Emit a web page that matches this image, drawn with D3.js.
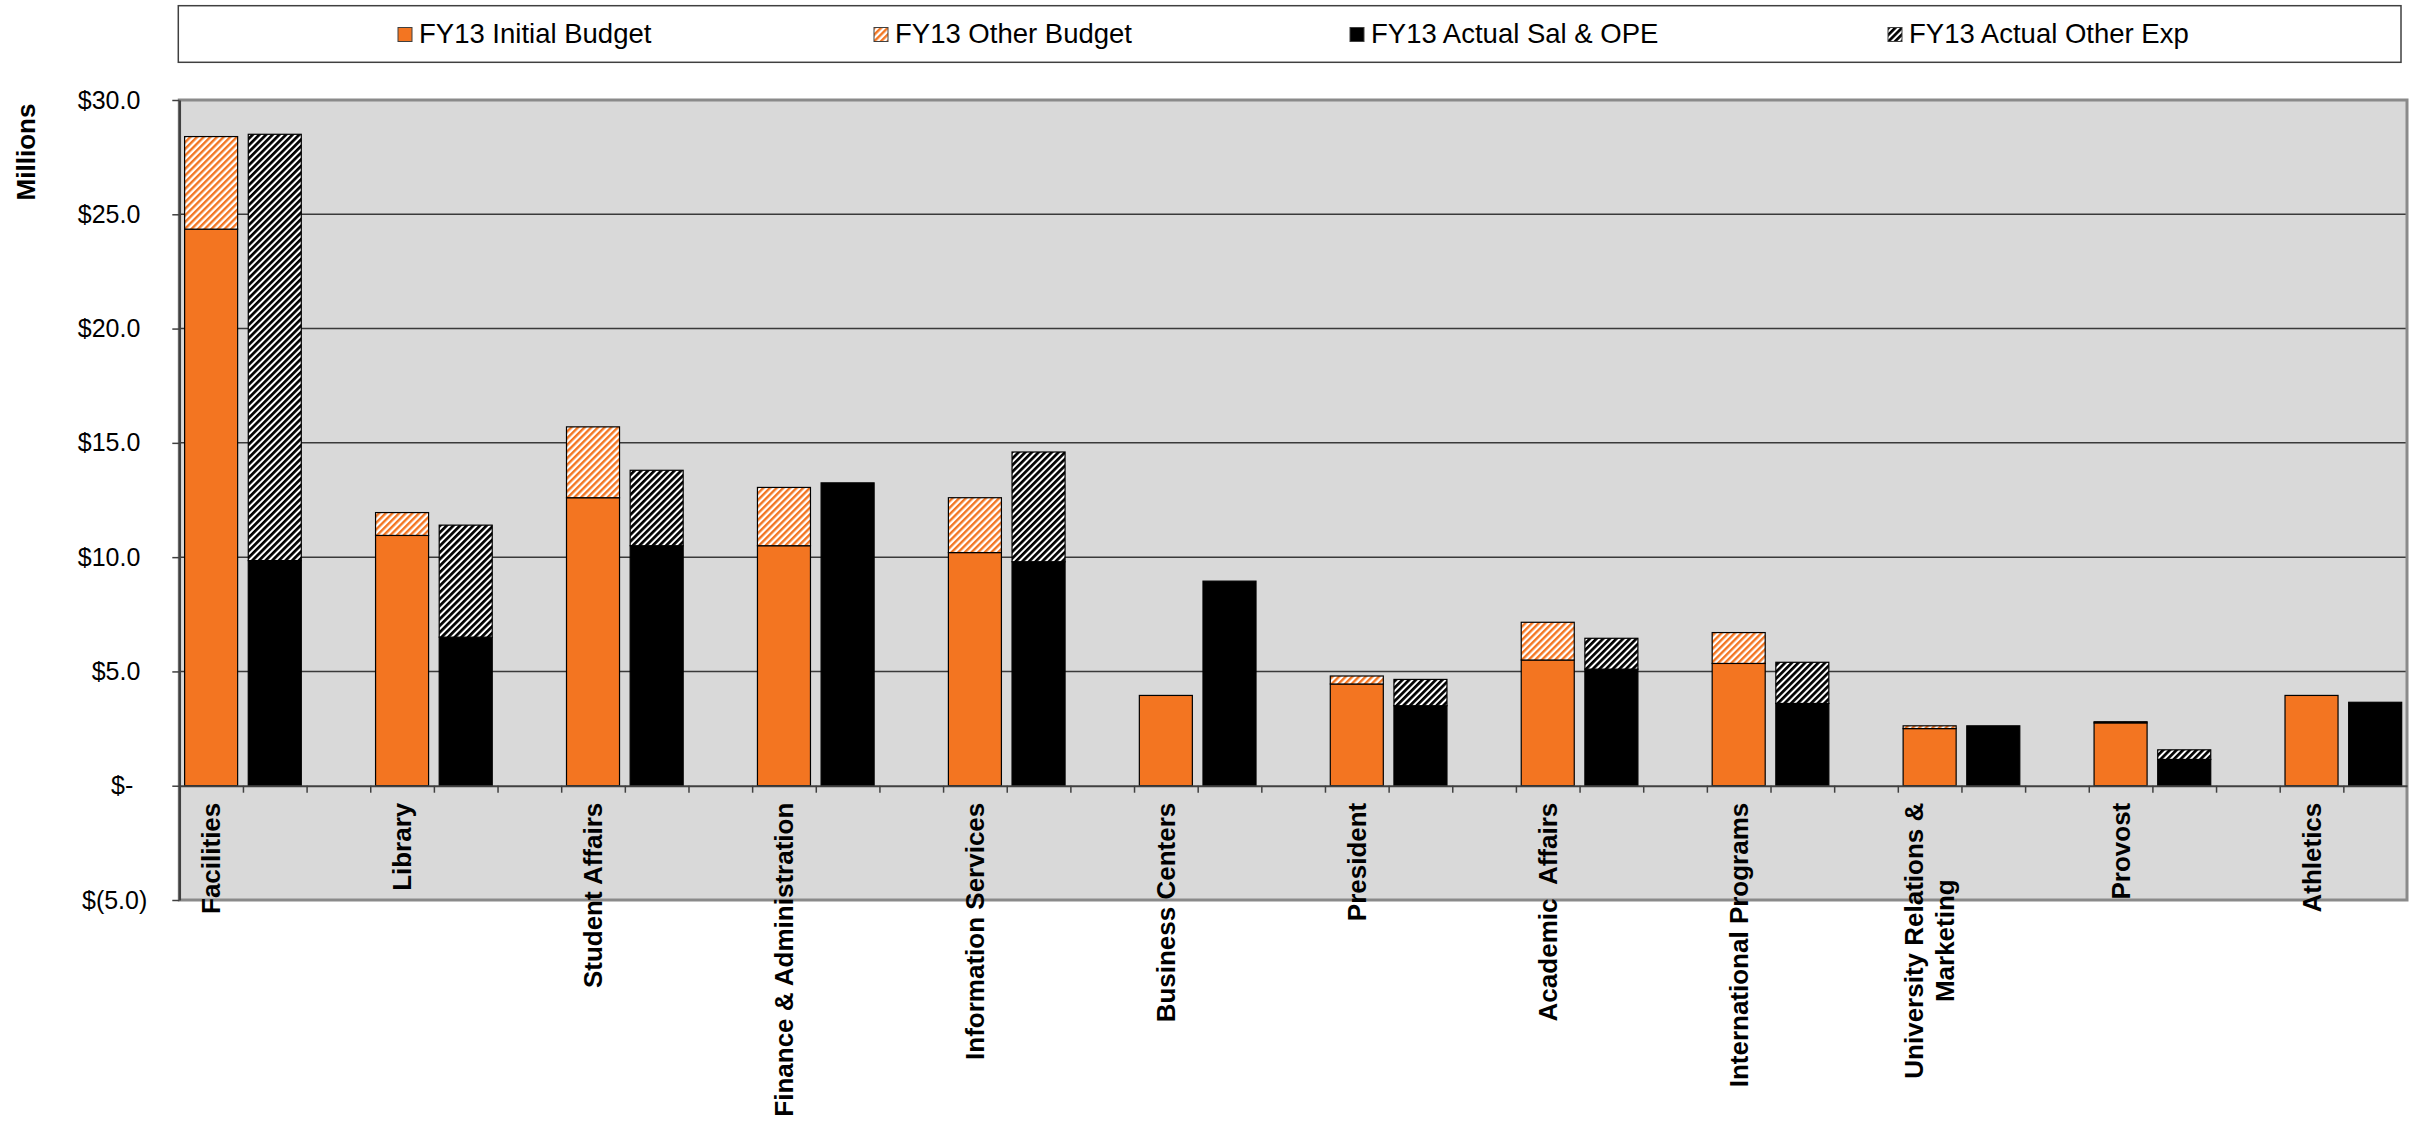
<!DOCTYPE html>
<html>
<head>
<meta charset="utf-8">
<script src="https://cdn.jsdelivr.net/npm/d3@7"></script>
<style>
  body { margin: 0; background: #fff; }
  text { font-family: "Liberation Sans", Arial, sans-serif; }
</style>
</head>
<body>
<svg id="chart"></svg>
<script>
// values in millions
const departments = ["Facilities", "Library", "Student Affairs", "Finance & Administration",
  "Information Services", "Business Centers", "President", "Academic  Affairs",
  "International Programs", "University Relations &\nMarketing", "Provost", "Athletics"];
const initialBudget  = [24.35, 10.95, 12.6, 10.5, 10.2, 3.95, 4.45, 5.5, 5.35, 2.5, 2.75, 3.95];
const otherBudget    = [4.05, 1.0, 3.1, 2.55, 2.4, 0, 0.35, 1.65, 1.35, 0.12, 0.05, 0];
const actualSalOpe   = [9.85, 6.5, 10.5, 13.25, 9.8, 8.95, 3.5, 5.1, 3.6, 2.62, 1.15, 3.65];
const actualOtherExp = [18.65, 4.9, 3.3, 0, 4.8, 0, 1.15, 1.35, 1.8, 0, 0.42, 0];
const seriesNames = ["FY13 Initial Budget", "FY13 Other Budget", "FY13 Actual Sal & OPE", "FY13 Actual Other Exp"];
const yTicks = [-5, 0, 5, 10, 15, 20, 25, 30];

const W = 2416, H = 1128;
const plot = {left: 179.3, right: 2407, top: 100, bottom: 900};
const orange = "#F37521";

const svg = d3.select("#chart").attr("width", W).attr("height", H);
const defs = svg.append("defs");

function hatch(id, color, w) {
  const p = defs.append("pattern").attr("id", id)
    .attr("patternUnits", "userSpaceOnUse")
    .attr("width", 4.7).attr("height", 4.7)
    .attr("patternTransform", "rotate(45)");
  p.append("rect").attr("width", 4.7).attr("height", 4.7).attr("fill", "#fff");
  p.append("rect").attr("width", w).attr("height", 4.7).attr("fill", color);
}
hatch("hatchOrange", orange, 2.4);
hatch("hatchBlack", "#000", 2.7);

const fills = [orange, "url(#hatchOrange)", "#000", "url(#hatchBlack)"];
const keys = ["init", "other", "sal", "exp"];

// every department gets a budget slot, an actual slot and an empty gap slot
const nSlots = departments.length * 3 - 1;
const rows = [];
departments.forEach((d, i) => {
  rows.push({slot: 3 * i, init: initialBudget[i], other: otherBudget[i], sal: 0, exp: 0});
  rows.push({slot: 3 * i + 1, init: 0, other: 0, sal: actualSalOpe[i], exp: actualOtherExp[i]});
});

const x = d3.scaleBand().domain(d3.range(nSlots))
  .range([plot.left, plot.right]).paddingInner(0.167).paddingOuter(0.0835);
const xTick = d3.scaleLinear().domain([0, nSlots]).range([plot.left, plot.right]);
const y = d3.scaleLinear().domain([-5, 30]).range([plot.bottom, plot.top]);

// plot background
svg.append("rect")
  .attr("x", plot.left).attr("y", plot.top)
  .attr("width", plot.right - plot.left).attr("height", plot.bottom - plot.top)
  .attr("fill", "#D9D9D9");

// gridlines
svg.append("g").selectAll("line")
  .data(yTicks.filter(t => t > 0 && t < 30))
  .join("line")
  .attr("x1", plot.left).attr("x2", plot.right)
  .attr("y1", d => y(d)).attr("y2", d => y(d))
  .attr("stroke", "#3a3a3a").attr("stroke-width", 1.5);

// stacked bars
const stacked = d3.stack().keys(keys)(rows);
svg.append("g").selectAll("g")
  .data(stacked)
  .join("g")
  .attr("fill", (s, i) => fills[i])
  .selectAll("rect")
  .data(s => s.filter(p => p[1] - p[0] > 0.001))
  .join("rect")
  .attr("x", p => x(p.data.slot))
  .attr("width", x.bandwidth())
  .attr("y", p => y(p[1]))
  .attr("height", p => y(p[0]) - y(p[1]))
  .attr("stroke", "#000").attr("stroke-width", 1.2);

// plot border
svg.append("rect")
  .attr("x", plot.left).attr("y", plot.top)
  .attr("width", plot.right - plot.left).attr("height", plot.bottom - plot.top)
  .attr("fill", "none").attr("stroke", "#8a8a8a").attr("stroke-width", 3);

// x axis at zero with slot-boundary ticks
const xAxis = svg.append("g")
  .attr("transform", "translate(0," + y(0) + ")")
  .call(d3.axisBottom(xTick).tickValues(d3.range(1, nSlots)).tickFormat("")
    .tickSizeInner(7).tickSizeOuter(0));
xAxis.select(".domain").attr("stroke", "#404040").attr("stroke-width", 2);
xAxis.selectAll(".tick line").attr("stroke", "#404040").attr("stroke-width", 1.5);

// y axis
function fmt(v) {
  if (v === 0) return "$-";
  if (v < 0) return "$(" + Math.abs(v).toFixed(1) + ")";
  return "$" + v.toFixed(1);
}
const yAxis = svg.append("g")
  .attr("transform", "translate(" + plot.left + ",0)")
  .call(d3.axisLeft(y).tickValues(yTicks).tickFormat(fmt).tickSizeInner(7).tickSizeOuter(0).tickPadding(32));
yAxis.select(".domain").attr("stroke", "#404040").attr("stroke-width", 2.5);
yAxis.selectAll(".tick line").attr("stroke", "#404040").attr("stroke-width", 1.5);
yAxis.selectAll(".tick text")
  .attr("font-size", 25).attr("fill", "#000")
  .attr("font-family", "'Liberation Sans', Arial, sans-serif")
  .attr("dx", d => d < 0 ? 7 : (d === 0 ? -7 : 0));

// category labels, drawn over the plot frame
const labelTop = y(0) + 17;
departments.forEach((d, i) => {
  const lines = d.split("\n");
  const cx = x(3 * i) + x.bandwidth() / 2;
  const g = svg.append("g")
    .attr("transform", "translate(" + cx + "," + labelTop + ") rotate(-90)");
  const t = g.selectAll("text").data(lines).join("text")
    .attr("font-size", 26).attr("font-weight", "bold")
    .attr("fill", "#000")
    .style("white-space", "pre")
    .attr("y", (l, j) => (j - (lines.length - 1) / 2) * 31)
    .attr("dy", "0.35em")
    .text(l => l);
  const maxLen = d3.max(t.nodes(), n => n.getComputedTextLength());
  t.attr("text-anchor", "middle").attr("x", -maxLen / 2);
});

svg.append("text")
  .attr("transform", "translate(26,152) rotate(-90)")
  .attr("text-anchor", "middle").attr("dy", "0.35em")
  .attr("font-size", 26).attr("font-weight", "bold")
  .text("Millions");

// legend
const legendX = [398, 874, 1350, 1888];
svg.append("rect")
  .attr("x", 178.3).attr("y", 5.7).attr("width", 2401 - 178.3).attr("height", 62.3 - 5.7)
  .attr("fill", "#fff").attr("stroke", "#404040").attr("stroke-width", 1.5);
const leg = svg.append("g").selectAll("g")
  .data(seriesNames)
  .join("g")
  .attr("transform", (d, i) => "translate(" + legendX[i] + ",0)");
leg.append("rect")
  .attr("x", 0).attr("y", 27.5).attr("width", 14).attr("height", 14)
  .attr("fill", (d, i) => fills[i]).attr("stroke", "#404040").attr("stroke-width", 1);
leg.append("text")
  .attr("x", 21).attr("y", 43)
  .attr("font-size", 27.5).attr("fill", "#000")
  .text(d => d);
</script>
</body>
</html>
